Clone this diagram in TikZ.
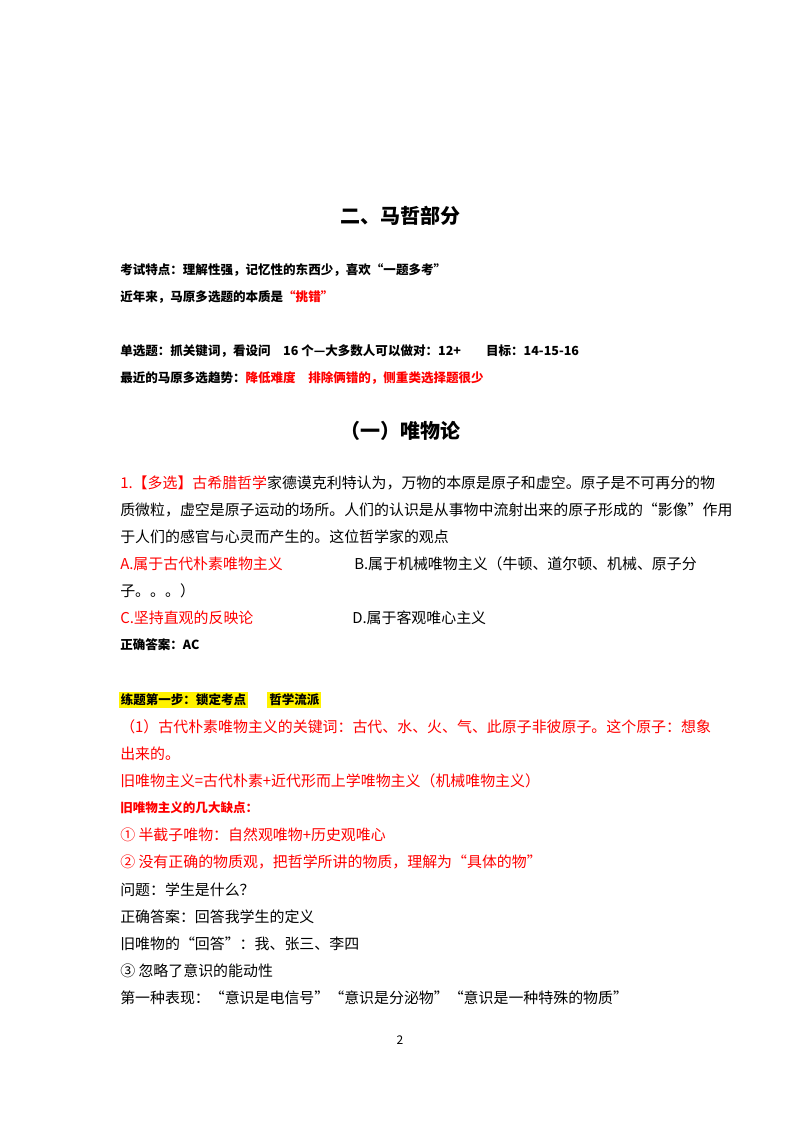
\documentclass[tikz,border=0pt]{standalone}
\usepackage{fontspec}
\setmainfont{Noto Sans CJK SC}
\begin{document}
\begin{tikzpicture}[x=0.75pt,y=-0.75pt,
  t/.style={anchor=west,inner sep=0pt,font=\fontsize{11.2}{13}\selectfont},
  b/.style={anchor=west,inner sep=0pt,font=\fontsize{9.4}{12}\selectfont\bfseries},
  h/.style={anchor=center,inner sep=0pt,font=\fontsize{15}{18}\selectfont\bfseries},
  hl/.style={b,fill=yellow,inner sep=1.5pt}]
\useasboundingbox[fill=white] (0,0) rectangle (800,1132);
\node[h] (title) at (400,216) {二、马哲部分};
\node[b] (l1) at (120,270) {考试特点：理解性强，记忆性的东西少，喜欢“一题多考”};
\node[b] (l2) at (120,297) {近年来，马原多选题的本质是\textcolor{red}{“挑错”}};
\node[b] (l3) at (120,351) {单选题：抓关键词，看设问\quad 16 个—大多数人可以做对：12+\quad\quad 目标：14-15-16};
\node[b] (l4) at (120,378) {最近的马原多选趋势：\textcolor{red}{降低难度\quad 排除俩错的，侧重类选择题很少}};
\node[h] (sub) at (400,431) {（一）唯物论};
\node[t] (q1) at (120,483) {\textcolor{red}{1.【多选】古希腊哲学}家德谟克利特认为，万物的本原是原子和虚空。原子是不可再分的物};
\node[t] (q2) at (120,510) {质微粒，虚空是原子运动的场所。人们的认识是从事物中流射出来的原子形成的“影像”作用};
\node[t] (q3) at (120,537) {于人们的感官与心灵而产生的。这位哲学家的观点};
\node[t,red] (qa) at (120,564) {A.属于古代朴素唯物主义};
\node[t] (qb) at (354,564) {B.属于机械唯物主义（牛顿、道尔顿、机械、原子分};
\node[t] (qb2) at (120,591) {子。。。）};
\node[t,red] (qc) at (120,618) {C.坚持直观的反映论};
\node[t] (qd) at (352,618) {D.属于客观唯心主义};
\node[b] (ans) at (120,645) {正确答案：AC};
\node[hl] (s1) at (118.5,700) {练题第一步：锁定考点};
\node[hl] (s2) at (267,700) {哲学流派};
\node[t,red] (r1) at (120,727) {（1）古代朴素唯物主义的关键词：古代、水、火、气、此原子非彼原子。这个原子：想象};
\node[t,red] (r2) at (120,754) {出来的。};
\node[t,red] (r3) at (120,781) {旧唯物主义=古代朴素+近代形而上学唯物主义（机械唯物主义）};
\node[b,red] (r4) at (120,808) {旧唯物主义的几大缺点：};
\node[t,red] (r5) at (120,835) {① 半截子唯物：自然观唯物+历史观唯心};
\node[t,red] (r6) at (120,862) {② 没有正确的物质观，把哲学所讲的物质，理解为“具体的物”};
\node[t] (r7) at (120,890) {问题：学生是什么？};
\node[t] (r8) at (120,917) {正确答案：回答我学生的定义};
\node[t] (r9) at (120,944) {旧唯物的“回答”：我、张三、李四};
\node[t] (r10) at (120,971) {③ 忽略了意识的能动性};
\node[t] (r11) at (120,998) {第一种表现：“意识是电信号”“意识是分泌物”“意识是一种特殊的物质”};
\node[anchor=center,inner sep=0pt,font=\fontsize{9}{10}\selectfont] (pg) at (400,1040) {2};
\end{tikzpicture}
\end{document}
